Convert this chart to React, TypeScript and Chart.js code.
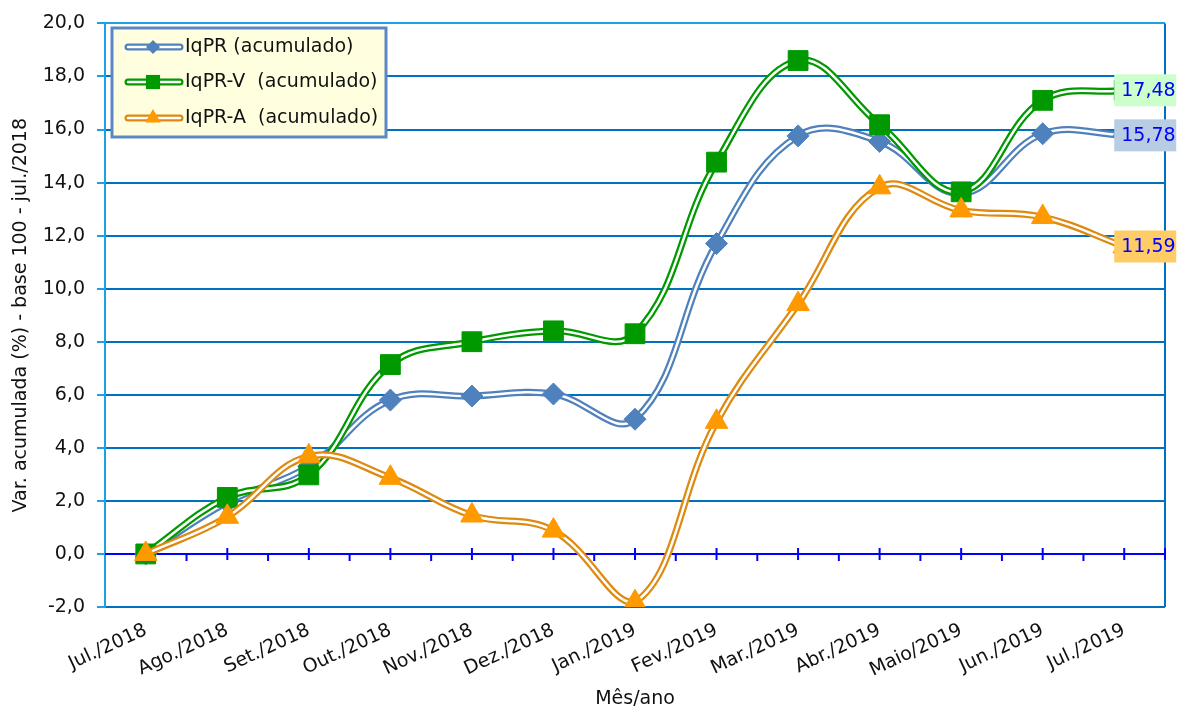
import { useEffect, useRef } from "react";
import { Chart, registerables } from "chart.js";

Chart.register(...registerables);

const categories = [
  "Jul./2018", "Ago./2018", "Set./2018", "Out./2018", "Nov./2018", "Dez./2018",
  "Jan./2019", "Fev./2019", "Mar./2019", "Abr./2019", "Maio/2019", "Jun./2019", "Jul./2019",
];
const iqpr = [0, 1.95, 3.3, 5.8, 5.95, 6.03, 5.08, 11.7, 15.76, 15.55, 13.58, 15.84, 15.78];
const iqprV = [0, 2.13, 2.98, 7.14, 8.0, 8.41, 8.3, 14.77, 18.6, 16.18, 13.65, 17.1, 17.48];
const iqprA = [0, 1.4, 3.68, 2.87, 1.45, 0.88, -1.82, 4.98, 9.42, 13.82, 12.95, 12.7, 11.59];
const seriesLabels = ["IqPR (acumulado)", "IqPR-V  (acumulado)", "IqPR-A  (acumulado)"];
const yTitle = "Var. acumulada (%) - base 100 - jul./2018";
const xTitle = "Mês/ano";

const FONT = "'DejaVu Sans', sans-serif";

type S = { data: number[]; line: string; marker: string; style: any; radius: number; box: string };
const series: S[] = [
  { data: iqpr, line: "#4F81BD", marker: "#4F81BD", style: "rectRot", radius: 11, box: "#B8CCE4" },
  { data: iqprV, line: "#009900", marker: "#009900", style: "rect", radius: 14, box: "#CCFFCC" },
  { data: iqprA, line: "#DE8A10", marker: "#FF9900", style: "triangle", radius: 13, box: "#FFCC66" },
];

const fmt = (v: number) => v.toFixed(2).replace(".", ",");

export default function App() {
  const ref = useRef<HTMLCanvasElement | null>(null);
  useEffect(() => {
    if (!ref.current) return;
    const datasets: any[] = [];
    let order = 20;
    series.forEach((s, i) => {
      datasets.push({
        label: seriesLabels[i], data: s.data, borderColor: s.line, borderWidth: 7,
        pointRadius: 0, tension: 0.4, fill: false, order: order--,
      });
      datasets.push({
        label: "_w" + i, data: s.data, borderColor: "#ffffff", borderWidth: 2.5,
        pointRadius: 0, tension: 0.4, fill: false, order: order--,
      });
      datasets.push({
        label: "_m" + i, data: s.data, showLine: false, pointStyle: s.style, pointRadius: s.radius,
        pointBackgroundColor: s.marker, pointBorderColor: s.marker, pointBorderWidth: 1,
        order: order--,
      });
    });

    const deco = {
      id: "deco",
      beforeDatasetsDraw(chart: any) {
        const { ctx, chartArea: a, scales } = chart;
        const x = scales.x, y = scales.y;
        ctx.save();
        ctx.strokeStyle = "#0070C0";
        ctx.lineWidth = 2;
        ctx.beginPath();
        ctx.moveTo(a.right, a.top);
        ctx.lineTo(a.right, a.bottom);
        ctx.stroke();
        const y0 = y.getPixelForValue(0);
        ctx.strokeStyle = "#0000FF";
        ctx.lineWidth = 2;
        ctx.beginPath();
        ctx.moveTo(a.left, y0);
        ctx.lineTo(a.right, y0);
        ctx.stroke();
        const n = categories.length;
        const step = (a.right - a.left) / n;
        ctx.beginPath();
        for (let i = 0; i < n; i++) {
          const cx = x.getPixelForValue(i);
          ctx.moveTo(cx, y0 - 6);
          ctx.lineTo(cx, y0 + 6);
          const bx = cx + step / 2;
          if (i === n - 1) {
            ctx.moveTo(bx, y0 - 6);
            ctx.lineTo(bx, y0 + 6);
          } else {
            ctx.moveTo(bx, y0);
            ctx.lineTo(bx, y0 + 7);
          }
        }
        ctx.stroke();
        ctx.restore();
      },
      afterDatasetsDraw(chart: any) {
        const { ctx, scales } = chart;
        const x = scales.x, y = scales.y;
        ctx.save();
        const last = categories.length - 1;
        ctx.font = `19px ${FONT}`;
        ctx.textBaseline = "middle";
        ctx.textAlign = "left";
        series.forEach((s) => {
          const px = x.getPixelForValue(last);
          const py = y.getPixelForValue(s.data[last]);
          ctx.fillStyle = s.box;
          ctx.fillRect(px - 10, py - 16, 62, 32);
          ctx.fillStyle = "#0000FF";
          ctx.fillText(fmt(s.data[last]), px - 3, py + 1);
        });
        const lx = 112, ly = 28, lw = 274, lh = 109;
        ctx.fillStyle = "#FFFFE0";
        ctx.fillRect(lx, ly, lw, lh);
        ctx.strokeStyle = "#5B87C5";
        ctx.lineWidth = 3;
        ctx.strokeRect(lx, ly, lw, lh);
        const rows = [47, 82, 118];
        series.forEach((s, i) => {
          const yy = rows[i];
          ctx.lineCap = "round";
          ctx.strokeStyle = s.line;
          ctx.lineWidth = 7;
          ctx.beginPath();
          ctx.moveTo(128, yy);
          ctx.lineTo(180, yy);
          ctx.stroke();
          ctx.strokeStyle = "#ffffff";
          ctx.lineWidth = 2.5;
          ctx.beginPath();
          ctx.moveTo(128, yy);
          ctx.lineTo(180, yy);
          ctx.stroke();
          ctx.lineCap = "butt";
          const r = s.style === "rectRot" ? 7 : s.style === "rect" ? 10 : 9;
          ctx.fillStyle = s.marker;
          ctx.beginPath();
          if (s.style === "rectRot") {
            ctx.moveTo(153, yy - r); ctx.lineTo(153 + r, yy); ctx.lineTo(153, yy + r); ctx.lineTo(153 - r, yy);
          } else if (s.style === "rect") {
            const h = r * Math.SQRT1_2;
            ctx.rect(153 - h, yy - h, 2 * h, 2 * h);
          } else {
            ctx.moveTo(153, yy - r); ctx.lineTo(153 + r * 0.866, yy + r * 0.5); ctx.lineTo(153 - r * 0.866, yy + r * 0.5);
          }
          ctx.closePath();
          ctx.fill();
          ctx.fillStyle = "#111111";
          ctx.font = `19px ${FONT}`;
          ctx.textAlign = "left";
          ctx.textBaseline = "middle";
          ctx.fillText(seriesLabels[i], 185, yy);
        });
        ctx.restore();
      },
    };

    const chart = new Chart(ref.current, {
      type: "line",
      data: { labels: categories, datasets },
      plugins: [deco],
      options: {
        responsive: true,
        maintainAspectRatio: false,
        animation: false,
        layout: { padding: { top: 20, right: 14, bottom: 0, left: 0 } },
        plugins: { legend: { display: false }, tooltip: { enabled: false } },
        scales: {
          x: {
            offset: true,
            grid: { display: false, drawTicks: false },
            border: { display: false },
            ticks: {
              autoSkip: false, minRotation: 25, maxRotation: 25, padding: 12,
              color: "#111111", font: { family: FONT, size: 19 },
            },
            title: {
              display: true, text: xTitle, color: "#111111",
              font: { family: FONT, size: 19 }, padding: { top: 0, bottom: -3 },
            },
            afterFit: (s: any) => { s.height = 100; },
          },
          y: {
            min: -2, max: 20,
            ticks: {
              stepSize: 2, padding: 12, color: "#111111",
              font: { family: FONT, size: 19 },
              callback: (v: any) => Number(v).toFixed(1).replace(".", ","),
            },
            grid: {
              color: (c: any) => (c.tick && c.tick.value === 20 ? "#1EA0E8" : "#0070C0"),
              lineWidth: 2, tickLength: 8, tickColor: "#1EA0E8",
            },
            border: { color: "#1EA0E8", width: 2 },
            title: {
              display: true, text: yTitle, color: "#111111",
              font: { family: FONT, size: 19 }, padding: { top: 10, bottom: 0 },
            },
            afterFit: (s: any) => { s.width = 105; },
          },
        },
      } as any,
    });
    return () => chart.destroy();
  }, []);
  return (
    <div style={{ position: "fixed", left: 0, top: 0, width: 1180, height: 707, background: "#fff" }}>
      <canvas ref={ref} />
    </div>
  );
}
